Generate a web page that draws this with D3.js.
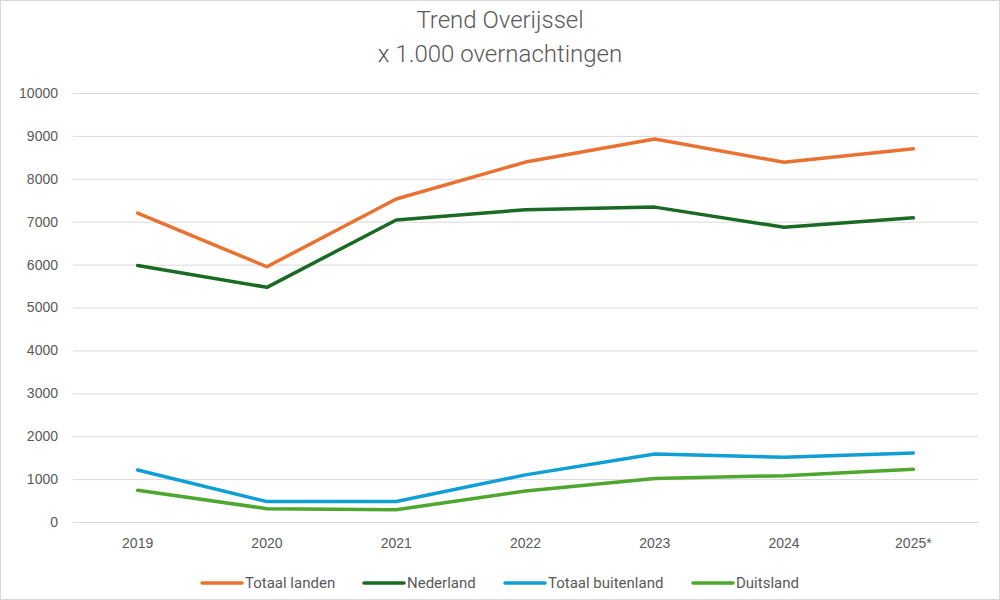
<!DOCTYPE html>
<html>
<head>
<meta charset="utf-8">
<script src="https://cdn.jsdelivr.net/npm/d3@7"></script>
<style>
  body { margin: 0; background: #fff; }
  svg { display: block; font-family: "Roboto", "Liberation Sans", sans-serif; }
</style>
</head>
<body>
<svg id="chart" width="1000" height="600"></svg>
<script>
// categorieen en reeksen (x 1.000 overnachtingen)
const jaren = ["2019", "2020", "2021", "2022", "2023", "2024", "2025*"];
const totaalLanden = [7200, 5950, 7530, 8390, 8930, 8385, 8700];
const nederland = [5980, 5470, 7040, 7280, 7340, 6870, 7090];
const totaalBuitenland = [1212, 475, 478, 1098, 1585, 1508, 1610];
const duitsland = [740, 310, 285, 725, 1012, 1080, 1228];
const yTicks = [0, 1000, 2000, 3000, 4000, 5000, 6000, 7000, 8000, 9000, 10000];

const reeksen = [
  { naam: "Totaal landen", waarden: totaalLanden, kleur: "#E97132" },
  { naam: "Nederland", waarden: nederland, kleur: "#196B24" },
  { naam: "Totaal buitenland", waarden: totaalBuitenland, kleur: "#0F9ED5" },
  { naam: "Duitsland", waarden: duitsland, kleur: "#4EA72E" },
];

const W = 1000, H = 600;
const m = { left: 73, right: 22, top: 93, bottom: 78 };
const svg = d3.select("#chart");

// rand
svg.append("rect").attr("x", 0.5).attr("y", 0.5).attr("width", W - 1).attr("height", H - 1)
  .attr("fill", "#fff").attr("stroke", "#d9d9d9");

const x = d3.scaleBand().domain(jaren).range([m.left, W - m.right]);
const y = d3.scaleLinear().domain([0, 10000]).range([H - m.bottom, m.top]);

// titel
svg.append("text").attr("x", 500).attr("y", 28).attr("text-anchor", "middle")
  .attr("font-size", 24).attr("font-weight", 300).attr("fill", "#595959").text("Trend Overijssel");
svg.append("text").attr("x", 500).attr("y", 62).attr("text-anchor", "middle")
  .attr("font-size", 24).attr("font-weight", 300).attr("fill", "#595959").text("x 1.000 overnachtingen");

// rasterlijnen + y-as
const yAxis = d3.axisLeft(y).tickValues(yTicks).tickFormat(d3.format("d"))
  .tickSize(-(W - m.left - m.right)).tickPadding(15);
const gy = svg.append("g").attr("transform", `translate(${m.left},0)`).call(yAxis);
gy.select(".domain").remove();
gy.selectAll("line").attr("stroke", "#d9d9d9").attr("stroke-width", 1);
gy.selectAll("text").attr("font-size", 14).attr("fill", "#595959").attr("font-family", null);

// x-as
const gx = svg.append("g").attr("transform", `translate(0,${H - m.bottom})`)
  .call(d3.axisBottom(x).tickSize(0).tickPadding(16));
gx.select(".domain").remove();
gx.selectAll("text").attr("font-size", 14).attr("fill", "#595959").attr("font-family", null);

// lijnen
const lijn = d3.line()
  .x((d, i) => x(jaren[i]) + x.bandwidth() / 2)
  .y(d => y(d));

svg.append("g").selectAll("path").data(reeksen).join("path")
  .attr("d", d => lijn(d.waarden))
  .attr("fill", "none")
  .attr("stroke", d => d.kleur)
  .attr("stroke-width", 3.5)
  .attr("stroke-linejoin", "round")
  .attr("stroke-linecap", "round");

// legenda
const legX = [202, 364, 505, 693];
const leg = svg.append("g").selectAll("g").data(reeksen).join("g")
  .attr("transform", (d, i) => `translate(${legX[i]},583)`);
leg.append("line").attr("x1", 0).attr("x2", 40).attr("y1", 0).attr("y2", 0)
  .attr("stroke", d => d.kleur).attr("stroke-width", 3.5).attr("stroke-linecap", "round");
leg.append("text").attr("x", 43).attr("y", 5).attr("font-size", 15).attr("fill", "#595959")
  .text(d => d.naam);
</script>
</body>
</html>
